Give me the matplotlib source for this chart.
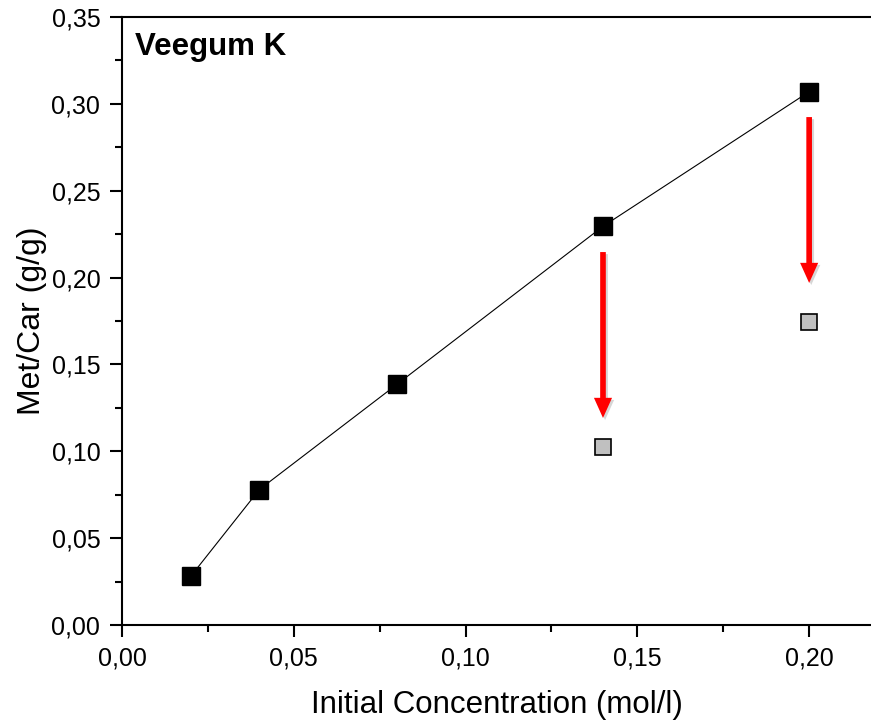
import matplotlib
matplotlib.use('Agg')
import matplotlib.pyplot as plt
import matplotlib.patheffects as pe
from matplotlib.ticker import FuncFormatter, MultipleLocator
import numpy as np

plt.rcParams['font.family'] = ['Liberation Sans', 'DejaVu Sans']

# data
conc = [0.02, 0.04, 0.08, 0.14, 0.20]
met_car = [0.028, 0.078, 0.1385, 0.2295, 0.307]
conc_after = [0.14, 0.20]
met_car_after = [0.1025, 0.1743]
arrow_x = [0.14, 0.20]
arrow_start = [0.2147, 0.2924]
arrow_end = [0.1192, 0.1969]

fig = plt.figure(figsize=(8.71, 7.21), dpi=100)
ax = fig.add_axes([0.140, 0.1331, 0.860, 0.8433])

ax.plot(conc, met_car, color='black', lw=0.8, marker='s', ms=12.5,
        mfc='black', mec='black', zorder=3)
ax.plot(conc_after, met_car_after, ls='none', marker='s', ms=11.5,
        mfc='#c0c0c0', mec='black', mew=1.2, zorder=3)

# red arrows with a light drop shadow
shadow = [pe.SimplePatchShadow(offset=(1.5, -1.5), shadow_rgbFace='#bbbbbb', alpha=0.6),
          pe.Normal()]
for x, y0, y1 in zip(arrow_x, arrow_start, arrow_end):
    ax.annotate('', xy=(x, y1), xytext=(x, y0),
                arrowprops=dict(arrowstyle='simple,head_width=0.45,head_length=0.5,tail_width=0.14',
                                mutation_scale=29, fc='red', ec='none', lw=0,
                                shrinkA=0, shrinkB=0, path_effects=shadow))

ax.set_xlim(0, 0.218)
ax.set_ylim(0, 0.35)
ax.xaxis.set_major_locator(MultipleLocator(0.05))
ax.xaxis.set_minor_locator(MultipleLocator(0.025))
ax.yaxis.set_major_locator(MultipleLocator(0.05))
ax.yaxis.set_minor_locator(MultipleLocator(0.025))
fmt = FuncFormatter(lambda v, p: f'{v:.2f}'.replace('.', ','))
ax.xaxis.set_major_formatter(fmt)
ax.yaxis.set_major_formatter(fmt)

ax.spines['right'].set_visible(False)
for s in ['left', 'bottom', 'top']:
    ax.spines[s].set_linewidth(1.5)
ax.tick_params(which='major', direction='out', length=8.6, width=1.5,
               labelsize=18, pad=7, top=False, right=False)
ax.tick_params(which='minor', direction='out', length=5, width=1.5,
               top=False, right=False)

ax.set_xlabel('Initial Concentration (mol/l)', fontsize=22.5, labelpad=14)
ax.set_ylabel('Met/Car (g/g)', fontsize=23, labelpad=3)
ax.text(0.018, 0.975, 'Veegum K', transform=ax.transAxes, fontsize=22.5,
        fontweight='bold', va='top', ha='left')

plt.savefig('out.png', dpi=100)
